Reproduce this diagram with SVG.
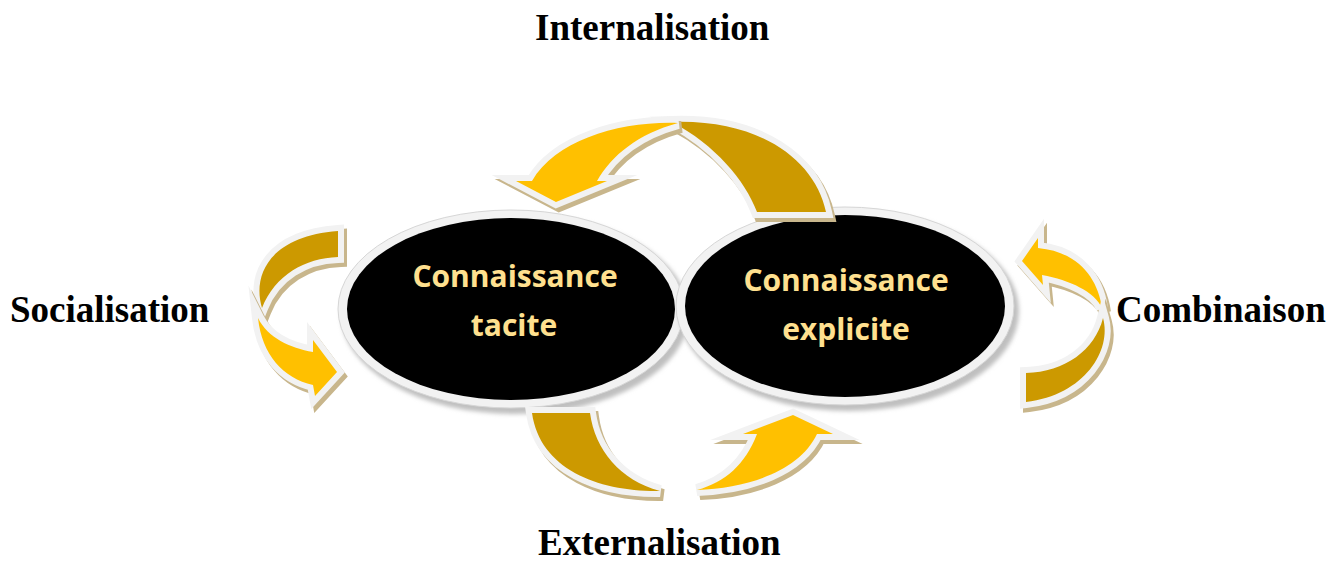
<svg xmlns="http://www.w3.org/2000/svg" xmlns:xlink="http://www.w3.org/1999/xlink" width="1330" height="563" viewBox="0 0 1330 563">
<style>
.lbl{font-family:"Liberation Serif","Times New Roman",serif;font-weight:bold;font-size:37px;fill:#000}
.ntx{font-family:"Open Sans","Noto Sans",sans-serif;font-weight:bold;font-size:30px;fill:#FFE08F;text-anchor:middle}
.sh{fill:#C8B68C;stroke:#C8B68C;stroke-width:12;stroke-linejoin:miter;stroke-miterlimit:6}
.dk{fill:#CC9900;stroke:#F2F2F2;stroke-width:12;stroke-linejoin:miter;stroke-miterlimit:6;paint-order:stroke}
.br{fill:#FFC000;stroke:#F2F2F2;stroke-width:12;stroke-linejoin:miter;stroke-miterlimit:6;paint-order:stroke}
.esh{fill:#BFBFBF}
.ering{fill:#F2F2F2;stroke:#D6D6D6;stroke-width:1}
.eblk{fill:#000}
</style>
<defs>
<filter id="blur" x="-10%" y="-10%" width="120%" height="120%"><feGaussianBlur stdDeviation="2"/></filter>
<path id="topDark" d="M 672,122 C 760,119 815,160 826,212 L 757,212 C 745,180 715,145 672,122 Z"/>
<path id="topBright" d="M 678,123 C 620,121 556,140 532,181 L 516,181 L 556,202 L 607,181 L 597,181 C 612,155 638,134 678,123 Z"/>
<path id="leftDark" d="M 338,231 L 338,257 C 305,258 275,275 262,308 C 252,275 270,236 338,231 Z"/>
<path id="leftBright" d="M 258,318 C 262,355 283,378 313,385 L 315,396 L 337,372 L 313,340 L 313,352 C 290,348 268,338 258,318 Z"/>
<path id="rightBright" d="M 1102,308 C 1098,280 1080,252 1038,248 L 1038,238 L 1022,261 L 1043,285 L 1042,275 C 1070,280 1095,292 1102,308 Z"/>
<path id="rightDark" d="M 1103,318 C 1112,350 1085,395 1026,402 L 1026,373 C 1065,372 1095,350 1103,318 Z"/>
<path id="botDark" d="M 532,413 L 590,413 C 595,450 620,480 660,491 C 600,492 540,470 532,413 Z"/>
<path id="botBright" d="M 697,490 C 750,488 800,470 817,434 L 833,434 L 793,415 L 743,434 L 757,434 C 745,465 725,482 697,490 Z"/>
</defs>
<rect width="1330" height="563" fill="#fff"/>
<g id="node-tacite">
<ellipse class="esh" cx="515" cy="314" rx="174" ry="100" filter="url(#blur)"/>
<ellipse class="ering" cx="511" cy="309" rx="173" ry="99"/>
<ellipse class="eblk" cx="511" cy="309" rx="164" ry="91"/>
<text class="ntx" x="515" y="287">Connaissance</text>
<text class="ntx" x="514" y="336">tacite</text>
</g>
<g id="node-explicite">
<ellipse class="esh" cx="849" cy="311" rx="170" ry="100" filter="url(#blur)"/>
<ellipse class="ering" cx="845" cy="306" rx="169" ry="99"/>
<ellipse class="eblk" cx="845" cy="306" rx="160" ry="91"/>
<text class="ntx" x="846" y="291">Connaissance</text>
<text class="ntx" x="846" y="340">explicite</text>
</g>
<g id="connectors">
<g id="internalisation">
<use xlink:href="#topDark" class="sh" transform="translate(3,4)"/>
<use xlink:href="#topDark" class="dk"/>
<use xlink:href="#topBright" class="sh" transform="translate(3,4)"/>
<use xlink:href="#topBright" class="br"/>
<text class="lbl" x="535" y="40">Internalisation</text>
</g>
<g id="socialisation">
<use xlink:href="#leftDark" class="sh" transform="translate(3,4)"/>
<use xlink:href="#leftDark" class="dk"/>
<use xlink:href="#leftBright" class="sh" transform="translate(3,4)"/>
<use xlink:href="#leftBright" class="br"/>
<text class="lbl" x="10" y="322">Socialisation</text>
</g>
<g id="combinaison">
<use xlink:href="#rightBright" class="sh" transform="translate(3,4)"/>
<use xlink:href="#rightBright" class="br"/>
<use xlink:href="#rightDark" class="sh" transform="translate(3,4)"/>
<use xlink:href="#rightDark" class="dk"/>
<text class="lbl" x="1116" y="322">Combinaison</text>
</g>
<g id="externalisation">
<use xlink:href="#botDark" class="sh" transform="translate(3,4)"/>
<use xlink:href="#botDark" class="dk"/>
<use xlink:href="#botBright" class="sh" transform="translate(3,4)"/>
<use xlink:href="#botBright" class="br"/>
<text class="lbl" x="538" y="555">Externalisation</text>
</g>
</g>
</svg>
